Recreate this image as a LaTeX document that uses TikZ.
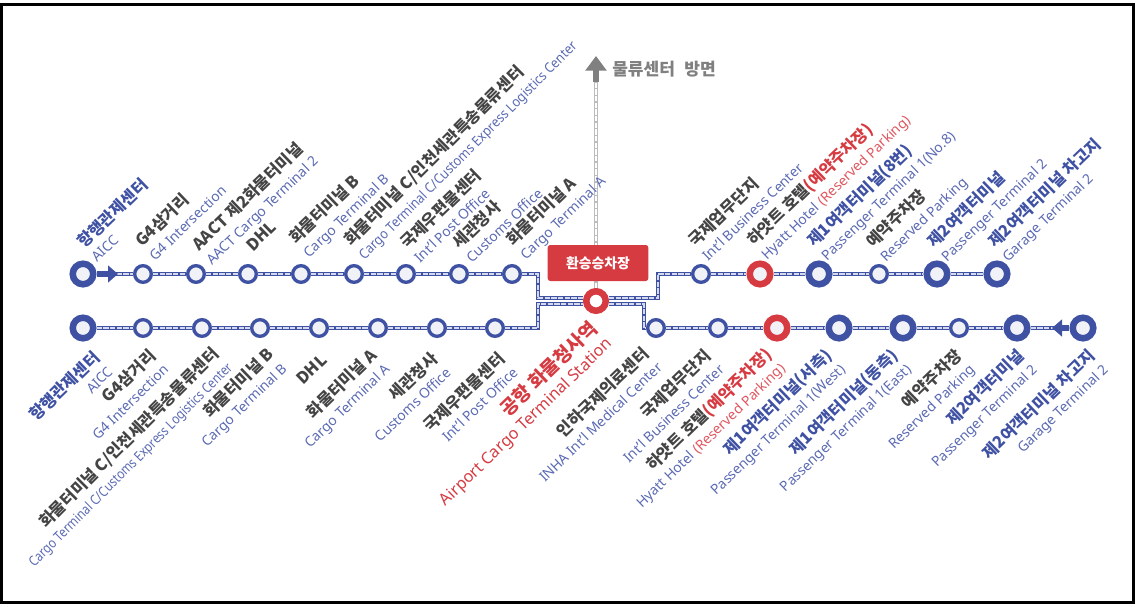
\documentclass[tikz,border=0pt]{standalone}
\usepackage{fontspec}
\setmainfont{Noto Sans}
\newfontfamily\krfont{Noto Sans CJK KR}
\usetikzlibrary{arrows.meta}
\definecolor{lineblue}{HTML}{3F51A3}
\definecolor{enblue}{HTML}{5A69B3}
\definecolor{stopred}{HTML}{D63B42}
\definecolor{enred}{HTML}{E0565F}
\definecolor{stopfill}{HTML}{F0F2F8}
\definecolor{krdark}{HTML}{444444}
\definecolor{graytext}{HTML}{808080}
\definecolor{grayrail}{HTML}{BBBBBB}
\definecolor{railcore}{HTML}{D5D9EE}
\newcommand{\darkkr}[1]{{\krfont\bfseries\color{krdark}#1}}
\newcommand{\bluekr}[1]{{\krfont\bfseries\color{lineblue}#1}}
\newcommand{\redkr}[1]{{\krfont\bfseries\color{stopred}#1}}
\newcommand{\entext}[1]{{\fontsize{10.4}{14.3}\selectfont\color{enblue}#1}}
\newcommand{\redtext}[1]{{\fontsize{10.4}{14.3}\selectfont\color{enred}#1}}
\begin{document}
\begin{tikzpicture}[x=0.75pt,y=-0.75pt,
    stopnode/.style={circle,inner sep=0pt,draw=lineblue,fill=stopfill,line width=2.5pt,minimum size=12.5pt},
    bignode/.style={stopnode,line width=4.9pt,minimum size=15.4pt},
    rednode/.style={bignode,draw=stopred},
    rail/.style={draw=lineblue,line width=3.6pt,postaction={draw=railcore,line width=1.2pt,dash pattern=on 4pt off 1pt}},
    grayline/.style={draw=grayrail,line width=3.2pt,postaction={draw=white,line width=1.2pt,dash pattern=on 4pt off 1pt}},
    thickarrow/.style={draw=lineblue,line width=5pt,-{Triangle[length=7.5pt,width=12.5pt]}},
    topnote/.style={rotate=44,anchor=west,align=left,inner sep=0pt,font=\fontsize{12.2}{14.3}\selectfont},
    botnote/.style={rotate=44,anchor=east,align=right,inner sep=0pt,font=\fontsize{12.2}{14.3}\selectfont}]
  \useasboundingbox (0,0) rectangle (1136,607);
  \node[draw=black,line width=2.4pt,minimum width=1132.5*0.75pt,minimum height=598*0.75pt,inner sep=0pt] (frame) at (567.25,303.5) {};
  % upper line
  \node[bignode] (aiccu) at (83,274) {};
  \node[stopnode] (g4u) at (143,274) {};
  \node[stopnode] (aact) at (196,274) {};
  \node[stopnode] (dhlu) at (248,274) {};
  \node[stopnode] (cargobu) at (301,274) {};
  \node[stopnode] (cargocu) at (354,274) {};
  \node[stopnode] (postu) at (406,274) {};
  \node[stopnode] (customsu) at (459,274) {};
  \node[stopnode] (cargoau) at (512,274) {};
  \node[bignode,draw=stopred,fill=white,minimum size=14.6pt] (hub) at (596,301) {};
  \node[stopnode] (bizu) at (701,274) {};
  \node[rednode] (hyattu) at (760,274) {};
  \node[bignode] (t1eight) at (819,274) {};
  \node[stopnode] (parku) at (879,274) {};
  \node[bignode] (t2u) at (937,274) {};
  \node[bignode] (garageu) at (997,274) {};
  % lower line
  \node[bignode] (aiccd) at (83,328) {};
  \node[stopnode] (g4d) at (143,328) {};
  \node[stopnode] (cargocd) at (202,328) {};
  \node[stopnode] (cargobd) at (260,328) {};
  \node[stopnode] (dhld) at (319,328) {};
  \node[stopnode] (cargoad) at (378,328) {};
  \node[stopnode] (customsd) at (437,328) {};
  \node[stopnode] (postd) at (495,328) {};
  \node[stopnode] (inha) at (656,328) {};
  \node[stopnode] (bizd) at (718,328) {};
  \node[rednode] (hyattd) at (777,328) {};
  \node[bignode] (t1west) at (839,328) {};
  \node[bignode] (t1east) at (903,328) {};
  \node[stopnode] (parkd) at (959,328) {};
  \node[bignode] (t2d) at (1017,328) {};
  \node[bignode] (garaged) at (1083,328) {};
  % bends
  \coordinate (ua) at (538,274);
  \coordinate (ub) at (538,298);
  \coordinate (uc) at (658,298);
  \coordinate (ud) at (658,274);
  \coordinate (da) at (538,328);
  \coordinate (db) at (538,304);
  \coordinate (dc) at (644,304);
  \coordinate (dd) at (644,328);
  \coordinate (aiccarrow) at (118,274);
  \coordinate (garagearrow) at (1052,328);
  \coordinate (grayend) at (596,82);
  \coordinate (graytip) at (596,56);
  % rails
  \draw[rail] (aiccu) -- (g4u);
  \draw[rail] (g4u) -- (aact);
  \draw[rail] (aact) -- (dhlu);
  \draw[rail] (dhlu) -- (cargobu);
  \draw[rail] (cargobu) -- (cargocu);
  \draw[rail] (cargocu) -- (postu);
  \draw[rail] (postu) -- (customsu);
  \draw[rail] (customsu) -- (cargoau);
  \draw[rail] (cargoau) -- (ua) -- (ub) -- (ub -| hub.west);
  \draw[rail] (uc -| hub.east) -- (uc) -- (ud) -- (bizu);
  \draw[rail] (bizu) -- (hyattu);
  \draw[rail] (hyattu) -- (t1eight);
  \draw[rail] (t1eight) -- (parku);
  \draw[rail] (parku) -- (t2u);
  \draw[rail] (t2u) -- (garageu);
  \draw[rail] (aiccd) -- (g4d);
  \draw[rail] (g4d) -- (cargocd);
  \draw[rail] (cargocd) -- (cargobd);
  \draw[rail] (cargobd) -- (dhld);
  \draw[rail] (dhld) -- (cargoad);
  \draw[rail] (cargoad) -- (customsd);
  \draw[rail] (customsd) -- (postd);
  \draw[rail] (postd) -- (da) -- (db) -- (db -| hub.west);
  \draw[rail] (dc -| hub.east) -- (dc) -- (dd) -- (inha);
  \draw[rail] (inha) -- (bizd);
  \draw[rail] (bizd) -- (hyattd);
  \draw[rail] (hyattd) -- (t1west);
  \draw[rail] (t1west) -- (t1east);
  \draw[rail] (t1east) -- (parkd);
  \draw[rail] (parkd) -- (t2d);
  \draw[rail] (t2d) -- (garaged);
  \draw[thickarrow] (aiccu) -- (aiccarrow);
  \draw[thickarrow] (garaged) -- (garagearrow);
  % way to the logistics center
  \draw[grayline] (hub) -- (grayend);
  \draw[draw=graytext,line width=5.2pt,-{Triangle[length=11pt,width=15.5pt]}] (grayend) -- (graytip);
  \node[anchor=west,inner sep=0pt,text=graytext,font=\krfont\bfseries\fontsize{12.8}{15}\selectfont] (towards) at (612,69) {물류센터\hspace{4pt} 방면};
  \node[fill=stopred,rounded corners=2pt,minimum width=75.5pt,minimum height=27pt,inner sep=0pt,text=white,font=\krfont\bfseries\fontsize{10.4}{12}\selectfont] (transfer) at (598,263) {환승승차장};
  % upper names
  \node[topnote] (aiccut) at (86,251) {\bluekr{항행관제센터}\\\entext{AICC}};
  \node[topnote] (g4ut) at (144,250) {\darkkr{G4삼거리}\\\entext{G4 Intersection}};
  \node[topnote] (aactt) at (202,255) {\darkkr{AACT 제2화물터미널}\\\entext{AACT Cargo Terminal 2}};
  \node[topnote] (dhlut) at (249,248) {\darkkr{DHL}};
  \node[topnote] (cargobut) at (299,248) {\darkkr{화물터미널 B}\\\entext{Cargo Terminal B}};
  \node[topnote,rotate=1] (cargocut) at (354,250) {\darkkr{화물터미널 C/인천세관특송물류센터}\\\entext{\scalebox{0.9}[1]{Cargo Terminal C/Customs Express Logistics Center}}};
  \node[topnote] (postut) at (409,252) {\darkkr{국제우편물센터}\\\entext{Int'l Post Office}};
  \node[topnote] (customsut) at (461,252) {\darkkr{세관청사}\\\entext{Customs Office}};
  \node[topnote] (cargoaut) at (516,250) {\darkkr{화물터미널 A}\\\entext{Cargo Terminal A}};
  \node[topnote] (bizut) at (697,250) {\darkkr{국제업무단지}\\\entext{Int'l Business Center}};
  \node[topnote] (hyattut) at (757,250) {\darkkr{하얏트 호텔}\redkr{(예약주차장)}\\\entext{Hyatt Hotel} \redtext{(Reserved Parking)}};
  \node[topnote] (t1eightt) at (817,251) {\bluekr{제1여객터미널(8번)}\\\entext{Passenger Terminal 1(No.8)}};
  \node[topnote] (parkut) at (876,252) {\darkkr{예약주차장}\\\entext{Reserved Parking}};
  \node[topnote] (t2ut) at (937,252) {\bluekr{제2여객터미널}\\\entext{Passenger Terminal 2}};
  \node[topnote] (garageut) at (998,252) {\bluekr{제2여객터미널 차고지}\\\entext{Garage Terminal 2}};
  % lower names
  \node[botnote] (aiccdt) at (103,361) {\bluekr{항행관제센터}\\\entext{AICC}};
  \node[botnote] (g4dt) at (159,359) {\darkkr{G4삼거리}\\\entext{G4 Intersection}};
  \node[botnote,rotate=1] (cargocdt) at (223,358) {\darkkr{화물터미널 C/인천세관특송물류센터}\\\entext{\scalebox{0.84}[1]{Cargo Terminal C/Customs Express Logistics Center}}};
  \node[botnote] (cargobdt) at (278,359) {\darkkr{화물터미널 B}\\\entext{Cargo Terminal B}};
  \node[botnote] (dhldt) at (324,357) {\darkkr{DHL}};
  \node[botnote] (cargoadt) at (381,360) {\darkkr{화물터미널 A}\\\entext{Cargo Terminal A}};
  \node[botnote] (customsdt) at (441,362) {\darkkr{세관청사}\\\entext{Customs Office}};
  \node[botnote] (postdt) at (508,362) {\darkkr{국제우편물센터}\\\entext{Int'l Post Office}};
  \node[botnote,font=\fontsize{14.2}{15.5}\selectfont] (hubt) at (602,333) {\redkr{공항 화물청사역}\\{\fontsize{12.2}{15.5}\selectfont\color{stopred}Airport Cargo Terminal Station}};
  \node[botnote] (inhat) at (652,357) {\darkkr{인하국제의료센터}\\\entext{INHA Int'l Medical Center}};
  \node[botnote] (bizdt) at (714,359) {\darkkr{국제업무단지}\\\entext{Int'l Business Center}};
  \node[botnote] (hyattdt) at (776,359) {\darkkr{하얏트 호텔}\redkr{(예약주차장)}\\\entext{Hyatt Hotel} \redtext{(Reserved Parking)}};
  \node[botnote] (t1westt) at (836,360) {\bluekr{제1여객터미널(서측)}\\\entext{Passenger Terminal 1(West)}};
  \node[botnote] (t1eastt) at (902,360) {\bluekr{제1여객터미널(동측)}\\\entext{Passenger Terminal 1(East)}};
  \node[botnote] (parkdt) at (966,360) {\darkkr{예약주차장}\\\entext{Reserved Parking}};
  \node[botnote] (t2dt) at (1028,360) {\bluekr{제2여객터미널}\\\entext{Passenger Terminal 2}};
  \node[botnote] (garagedt) at (1099,360) {\bluekr{제2여객터미널 차고지}\\\entext{Garage Terminal 2}};
\end{tikzpicture}
\end{document}
